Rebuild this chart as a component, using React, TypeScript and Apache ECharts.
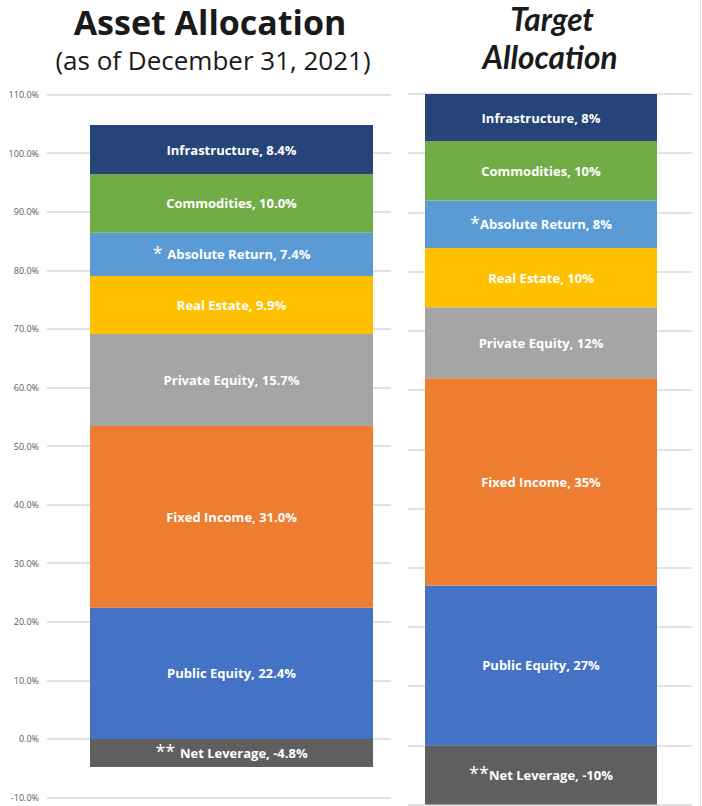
import React, { useEffect, useRef } from "react";
import * as echarts from "echarts";

const categories = [
  "Net Leverage",
  "Public Equity",
  "Fixed Income",
  "Private Equity",
  "Real Estate",
  "Absolute Return",
  "Commodities",
  "Infrastructure",
];
const actualValues = [-4.8, 22.4, 31.0, 15.7, 9.9, 7.4, 10.0, 8.4];
const targetValues = [-10, 27, 35, 12, 10, 8, 10, 8];
const colors = ["#5f5f5f", "#4472C4", "#ED7D31", "#A5A5A5", "#FFC000", "#5B9BD5", "#70AD47", "#264478"];
const leftPrefixes = ["** ", "", "", "", "", "* ", "", ""];
const rightPrefixes = ["**", "", "", "", "", "*", "", ""];
const yTicks = { min: -10, max: 110, interval: 10 };

const FONT = "'Open Sans', 'Noto Sans', sans-serif";

function makeLabel(prefix: string, name: string, valText: string) {
  if (!prefix) return `{t|${name}, ${valText}}`;
  return `{a|${prefix}}{t|${name}, ${valText}}`;
}

export default function App() {
  const ref = useRef<HTMLDivElement>(null);
  useEffect(() => {
    if (!ref.current) return;
    const chart = echarts.init(ref.current, null, { renderer: "svg" });
    const rich = {
      t: { color: "#fff", fontWeight: "bold", fontSize: 13, fontFamily: FONT },
      a: { color: "#fff", fontWeight: "normal", fontSize: 18, fontFamily: FONT, padding: [0, 0, 3, 0] },
    };
    const leftSeries = categories.map((c, i) => ({
      name: c,
      type: "bar",
      stack: "left",
      xAxisIndex: 1,
      yAxisIndex: 1,
      barWidth: "100%",
      data: [actualValues[i]],
      itemStyle: { color: colors[i] },
      label: {
        show: true,
        position: "inside",
        formatter: makeLabel(leftPrefixes[i], c, actualValues[i].toFixed(1) + "%"),
        rich,
      },
    }));
    const rightSeries = categories.map((c, i) => ({
      name: c + " ",
      type: "bar",
      stack: "right",
      xAxisIndex: 3,
      yAxisIndex: 3,
      barWidth: "100%",
      data: [targetValues[i]],
      itemStyle: { color: colors[i] },
      label: {
        show: true,
        position: "inside",
        formatter: makeLabel(rightPrefixes[i], c, targetValues[i].toFixed(0) + "%"),
        rich,
      },
    }));
    const splitLine = { show: true, lineStyle: { color: "#d9d9d9", width: 1.5 } };
    const hiddenY = { type: "value", ...yTicks, show: false, splitLine: { show: false } };
    chart.setOption({
      animation: false,
      grid: [
        { left: 47, right: 311, top: 94.5, bottom: 8.5 },
        { left: 90, width: 283, top: 94.5, bottom: 8.5 },
        { left: 408, right: 10, top: 94, bottom: 1.5 },
        { left: 425, width: 232, top: 94, bottom: 1.5 },
      ],
      xAxis: [0, 1, 2, 3].map((g) => ({
        type: "category",
        gridIndex: g,
        data: ["A"],
        show: false,
      })),
      yAxis: [
        {
          type: "value",
          gridIndex: 0,
          ...yTicks,
          axisLine: { show: false },
          axisTick: { show: false },
          axisLabel: {
            color: "#595959",
            fontSize: 9,
            fontFamily: FONT,
            margin: 8,
            formatter: (v: number) => v.toFixed(1) + "%",
          },
          splitLine,
        },
        { ...hiddenY, gridIndex: 1 },
        {
          type: "value",
          gridIndex: 2,
          ...yTicks,
          axisLine: { show: false },
          axisTick: { show: false },
          axisLabel: { show: false },
          splitLine,
        },
        { ...hiddenY, gridIndex: 3 },
      ],
      series: [...leftSeries, ...rightSeries],
      graphic: [
        {
          type: "line",
          shape: { x1: 700.5, y1: 0, x2: 700.5, y2: 806 },
          style: { stroke: "#e3e3e3", lineWidth: 1 },
        },
        {
          type: "line",
          shape: { x1: 425.5, y1: 94, x2: 425.5, y2: 805 },
          style: { stroke: "#d0d0d0", lineWidth: 1 },
        },
        {
          type: "text",
          x: 210,
          y: 22,
          style: {
            text: "Asset Allocation",
            fontSize: 34,
            lineHeight: 34,
            fontWeight: "bold",
            fontFamily: FONT,
            fill: "#1a1a1a",
            align: "center",
            verticalAlign: "middle",
          },
        },
        {
          type: "text",
          x: 213,
          y: 60,
          style: {
            text: "(as of December 31, 2021)",
            fontSize: 26,
            lineHeight: 26,
            fontFamily: FONT,
            fill: "#1a1a1a",
            align: "center",
            verticalAlign: "middle",
          },
        },
        {
          type: "text",
          x: 552,
          y: 19,
          style: {
            text: "Target",
            fontSize: 31.5,
            lineHeight: 31.5,
            fontWeight: "bold",
            fontStyle: "italic",
            fontFamily: "Lato, 'Open Sans', sans-serif",
            fill: "#1a1a1a",
            align: "center",
            verticalAlign: "middle",
          },
        },
        {
          type: "text",
          x: 550,
          y: 57,
          style: {
            text: "Allocation",
            fontSize: 31.5,
            lineHeight: 31.5,
            fontWeight: "bold",
            fontStyle: "italic",
            fontFamily: "Lato, 'Open Sans', sans-serif",
            fill: "#1a1a1a",
            align: "center",
            verticalAlign: "middle",
          },
        },
      ],
    });
    return () => chart.dispose();
  }, []);
  return (
    <div
      ref={ref}
      style={{ position: "fixed", left: 0, top: 0, width: 702, height: 806, background: "#fff" }}
    />
  );
}
